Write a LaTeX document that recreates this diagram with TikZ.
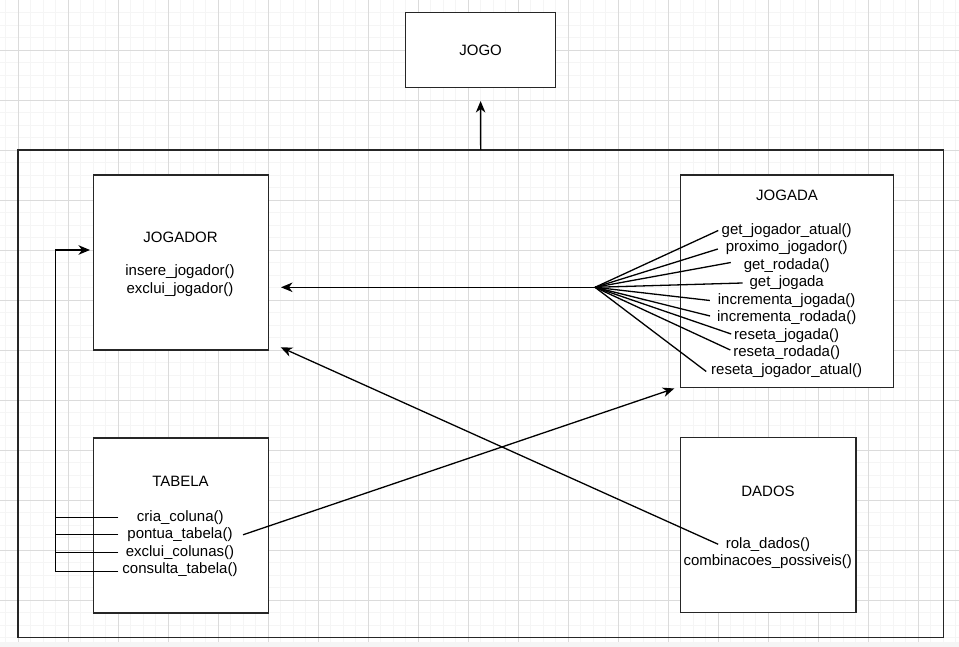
\documentclass[tikz,border=0pt]{standalone}
\usepackage{fontspec}
\setmainfont{Liberation Sans}
\usetikzlibrary{arrows.meta}
\begin{document}
\begin{tikzpicture}[x=1pt,y=-1pt,
  boxn/.style={draw=black!85,line width=1.3pt,fill=white,inner sep=0pt,outer sep=0pt},
  lbl/.style={inner sep=0pt,outer sep=0pt,font=\fontsize{15}{17.5}\selectfont,text=black},
  conn/.style={line width=1.3pt,draw=black},
  arr/.style={conn,-{Stealth[length=11.5pt,width=9.5pt,inset=3.5pt]}},
  minorg/.style={line width=0.8pt,draw=black!4},
  majorg/.style={line width=0.9pt,draw=black!14}]
\useasboundingbox (0,0) rectangle (959,647);
\fill[white] (0,0) rectangle (959,647);
\fill[black!4] (0,642) rectangle (959,647);
% grid
\foreach \i in {0,...,76} \draw[minorg] ({5.8+12.5*\i},0) -- ({5.8+12.5*\i},642);
\foreach \j in {1,...,51} \draw[minorg] (0,{12.5*\j}) -- (959,{12.5*\j});
\foreach \i in {0,...,18} \draw[majorg] ({18.3+50*\i},0) -- ({18.3+50*\i},642);
\foreach \j in {1,...,12} \draw[majorg] (0,{50*\j}) -- (959,{50*\j});

% frame and boxes
\node[draw=black!85,line width=1.3pt,inner sep=0pt,outer sep=0pt,minimum width=925.3pt,minimum height=487.7pt] (frame) at (480.65,393.85) {};
\node[boxn,minimum width=150pt,minimum height=75pt,font=\fontsize{15}{17.5}\selectfont] (jogo) at (480.6,50) {JOGO};
\node[boxn,minimum width=175pt,minimum height=175pt] (jogador) at (180.8,262.5) {};
\node[boxn,minimum width=175pt,minimum height=175pt] (tabela) at (180.8,525.5) {};
\node[boxn,minimum width=212.6pt,minimum height=212.5pt] (jogada) at (787,281.25) {};
\node[boxn,minimum width=175.3pt,minimum height=175pt] (dados) at (768.35,525.2) {};

% JOGADOR texts
\node[lbl] (tjogador) at (180.5,237.3) {JOGADOR};
\node[lbl] (ins) at (180,271.7) {insere\_jogador()};
\node[lbl] (exj) at (180,289.2) {exclui\_jogador()};

% TABELA texts
\node[lbl] (ttabela) at (180.5,481.7) {TABELA};
\node[lbl] (cc) at (180.3,517.3) {cria\_coluna()};
\node[lbl] (pt) at (180,534.8) {pontua\_tabela()};
\node[lbl] (ec) at (180,552.3) {exclui\_colunas()};
\node[lbl] (ct) at (180,569.8) {consulta\_tabela()};

% JOGADA texts
\node[lbl] (tjogada) at (787,195) {JOGADA};
\node[lbl] (gja) at (786.7,230.5) {get\_jogador\_atual()};
\node[lbl] (pj) at (786.7,248) {proximo\_jogador()};
\node[lbl] (gr) at (786.7,265.5) {get\_rodada()};
\node[lbl] (gj) at (786.7,283) {get\_jogada};
\node[lbl] (ij) at (786.7,300.5) {incrementa\_jogada()};
\node[lbl] (ir) at (786.7,318) {incrementa\_rodada()};
\node[lbl] (rj) at (786.7,335.5) {reseta\_jogada()};
\node[lbl] (rr) at (786.7,353) {reseta\_rodada()};
\node[lbl] (rja) at (786.7,370.5) {reseta\_jogador\_atual()};

% DADOS texts
\node[lbl] (tdados) at (768,491) {DADOS};
\node[lbl] (rd) at (768,544.3) {rola\_dados()};
\node[lbl] (cp) at (767.7,561.8) {combinacoes\_possiveis()};

% helper coordinates
\coordinate (fan) at (595,287.3);
\coordinate (tk) at (55.7,0);
\coordinate (tl) at (118.3,0);
\coordinate (jin) at ([yshift=12.5pt,xshift=-3.3pt]jogador.west);
\coordinate (jt) at ([xshift=12.7pt]jogador.east);

% frame -> JOGO
\draw[arr] (frame.north) -- ([yshift=-13.5pt]jogo.south);

% fan from JOGADA methods to JOGADOR
\draw[conn] (fan) -- ([xshift=-3.4pt]gja.west);
\draw[conn] (fan) -- ([xshift=-8pt,yshift=-1pt]pj.west);
\draw[conn] (fan) -- ([xshift=-13pt,yshift=3pt]gr.west);
\draw[conn] (fan) -- ([xshift=-7pt]gj.west);
\draw[conn] (fan) -- ([xshift=-8pt]ij.west);
\draw[conn] (fan) -- ([xshift=-7pt,yshift=2pt]ir.west);
\draw[conn] (fan) -- ([xshift=-3pt,yshift=1.5pt]rj.west);
\draw[conn] (fan) -- ([xshift=-3pt,yshift=3pt]rr.west);
\draw[conn] (fan) -- ([xshift=-5pt,yshift=-1pt]rja.west);
\draw[arr] (fan) -- (jt |- fan);

% TABELA methods -> JOGADOR
\draw[conn] (tl |- cc) -- (tk |- cc);
\draw[conn] (tl |- pt) -- (tk |- pt);
\draw[conn] (tl |- ec) -- (tk |- ec);
\draw[arr] ([yshift=-2pt]tl |- ct) -- ([yshift=-2pt]tk |- ct) -- (tk |- jin) -- (jin);

% pontua_tabela -> JOGADA
\draw[arr] ([xshift=10.5pt]pt.east) -- ([xshift=-6.4pt,yshift=-1pt]jogada.south west);

% rola_dados -> JOGADOR
\draw[arr] ([xshift=-7.7pt]rd.west) -- ([xshift=12.4pt,yshift=2.7pt]jogador.south east);
\end{tikzpicture}
\end{document}
